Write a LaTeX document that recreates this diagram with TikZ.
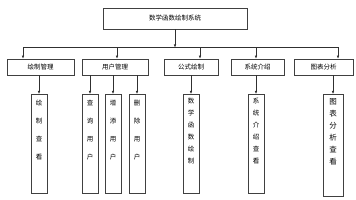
\documentclass[tikz,border=0pt]{standalone}
\usepackage{fontspec}
\usepackage{tikz}
\usetikzlibrary{arrows.meta,positioning,calc}
\newfontfamily\cjk{Noto Sans CJK SC}
\definecolor{boxline}{HTML}{404040}
\definecolor{linkline}{HTML}{303030}

\begin{document}
\begin{tikzpicture}[x=1pt,y=-1pt,>={Latex[length=3pt,width=2.6pt]},
  font=\cjk\fontsize{6.5}{8}\selectfont,
  sysbox/.style={draw=boxline,line width=0.6pt,fill=white,minimum width=144pt,minimum height=21pt,inner sep=0pt},
  modbox/.style={draw=boxline,line width=0.6pt,fill=white,minimum height=16pt,inner sep=0pt},
  funbox/.style={draw=boxline,line width=0.7pt,fill=white,minimum width=16pt,minimum height=99pt,
    anchor=north,inner sep=0pt},
  vtext/.style={anchor=north,align=center,inner sep=0pt,yshift=-6pt},
  link/.style={draw=linkline,line width=0.6pt}]
\useasboundingbox (0,0) rectangle (356,200);
\node[sysbox](sys) at (175,18.5){数学函数绘制系统};
% second level
\node[modbox,minimum width=67pt](draw) at (40.5,67){绘制管理};
\node[modbox,minimum width=66pt](user) at (115,67){用户管理};
\node[modbox,minimum width=54pt](formula) at (191,67){公式绘制};
\node[modbox,minimum width=53pt](intro) at (257.5,67){系统介绍};
\node[modbox,minimum width=59pt](chart) at (323.5,67){图表分析};
\coordinate (b1) at (23,47.5);
\coordinate (b2) at (117,47.5);
\coordinate (b3) at (200,47.5);
\coordinate (b4) at (256,47.5);
\coordinate (b5) at (338,47.5);
\draw[link,->] (sys) -- (sys |- b1);
\draw[link] (b1) -- (b5);
\foreach \b/\m in {b1/draw,b2/user,b3/formula,b4/intro,b5/chart}
  \draw[link,->] (\b) -- (\b |- \m.north);
% third level
\node[funbox,label={[vtext,font=\cjk\fontsize{6.5}{18}\selectfont]north:绘\\制\\查\\看}](view) at (39,94){};
\node[funbox,label={[vtext,font=\cjk\fontsize{6.5}{18}\selectfont]north:查\\询\\用\\户}](query) at (90,94){};
\node[funbox,label={[vtext,font=\cjk\fontsize{6.5}{18}\selectfont]north:增\\添\\用\\户}](add) at (113,94){};
\node[funbox,label={[vtext,font=\cjk\fontsize{6.5}{18}\selectfont]north:删\\除\\用\\户}](del) at (137,94){};
\node[funbox,label={[vtext,yshift=2pt,font=\cjk\fontsize{6.5}{12}\selectfont]north:数\\学\\函\\数\\绘\\制}](plot) at (191,94){};
\node[funbox,label={[vtext,yshift=2pt,font=\cjk\fontsize{6.5}{12}\selectfont]north:系\\统\\介\\绍\\查\\看}](introview) at (256,94){};
\node[funbox,minimum width=20pt,minimum height=102pt,label={[vtext,yshift=2pt,font=\cjk\fontsize{7.5}{12}\selectfont]north:图\\表\\分\\析\\查\\看}](chartview) at (333,94){};
\foreach \m/\f in {draw/view,user/query,user/add,user/del,formula/plot,intro/introview,chart/chartview}
  \draw[link,->] (\f |- \m.south) -- (\f.north);
\end{tikzpicture}
\end{document}
